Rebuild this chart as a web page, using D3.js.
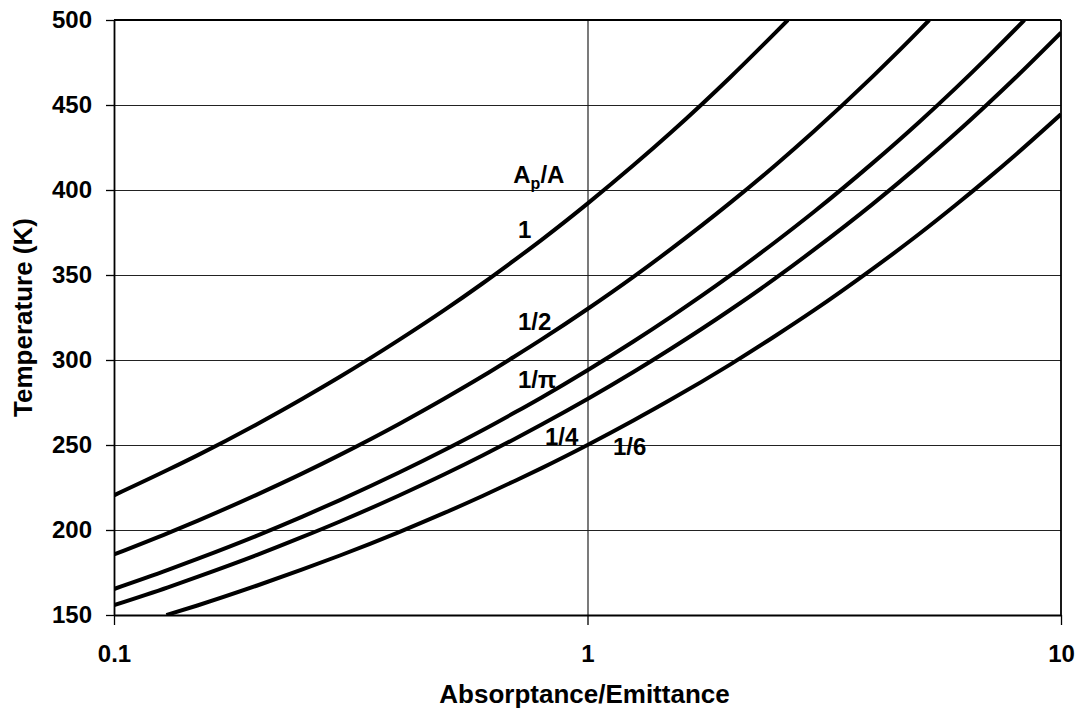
<!DOCTYPE html>
<html>
<head>
<meta charset="utf-8">
<script src="https://cdn.jsdelivr.net/npm/d3@7.9.0/dist/d3.min.js"></script>
<style>
  body { margin: 0; background: #fff; }
  svg { display: block; font-family: "Liberation Sans", Arial, sans-serif; font-weight: bold; }
</style>
</head>
<body>
<div id="chart"></div>
<script>
// values: [absorptance/emittance, temperature K]
const curve1 = [[0.1, 220.4], [0.13, 235.4], [0.15, 243.9], [0.2, 262.1], [0.25, 277.2], [0.3, 290.1],
  [0.4, 311.8], [0.5, 329.6], [0.6, 345.0], [0.7, 358.6], [0.8, 370.7], [1, 392], [1.25, 414.5],
  [1.5, 433.8], [2, 466.2], [2.5, 492.9], [2.65, 500]];
const curveHalf = [[0.1, 185.6], [0.13, 198.2], [0.15, 205.4], [0.2, 220.7], [0.25, 233.3], [0.3, 244.2],
  [0.4, 262.4], [0.5, 277.5], [0.6, 290.4], [0.7, 301.9], [0.8, 312.1], [1, 330], [1.25, 348.9],
  [1.5, 365.2], [2, 392.4], [2.5, 414.9], [3, 434.3], [4, 466.7], [5, 493.4], [5.27, 500]];
const curvePi = [[0.1, 165.3], [0.13, 176.5], [0.15, 183.0], [0.2, 196.6], [0.25, 207.9], [0.3, 217.6],
  [0.4, 233.8], [0.5, 247.2], [0.6, 258.7], [0.7, 268.9], [0.8, 278.0], [1, 294], [1.25, 310.9],
  [1.5, 325.4], [2, 349.6], [2.5, 369.7], [3, 386.9], [4, 415.8], [5, 439.6], [6, 460.1],
  [7, 478.2], [8, 494.4], [8.37, 500]];
const curveQuarter = [[0.1, 155.8], [0.13, 166.3], [0.15, 172.4], [0.2, 185.2], [0.25, 195.9], [0.3, 205.0],
  [0.4, 220.3], [0.5, 232.9], [0.6, 243.8], [0.7, 253.4], [0.8, 262.0], [1, 277], [1.25, 292.9],
  [1.5, 306.6], [2, 329.4], [2.5, 348.3], [3, 364.6], [4, 391.7], [5, 414.2], [6, 433.5],
  [7, 450.6], [8, 465.9], [10, 492.6]];
const curveSixth = [[0.129, 150], [0.15, 155.6], [0.2, 167.2], [0.25, 176.8], [0.3, 185.0],
  [0.4, 198.8], [0.5, 210.2], [0.6, 220.0], [0.7, 228.7], [0.8, 236.4], [1, 250], [1.25, 264.4],
  [1.5, 276.7], [2, 297.3], [2.5, 314.4], [3, 329.0], [4, 353.6], [5, 373.8], [6, 391.3],
  [7, 406.7], [8, 420.5], [10, 444.6]];

const xTicks = [0.1, 1, 10];
const yTicks = [150, 200, 250, 300, 350, 400, 450, 500];

// curve labels: text, position in data units
const curveLabels = [
  { text: '1', x: 0.713, y: 372 },
  { text: '1/2', x: 0.713, y: 317.5 },
  { text: '1/\u03c0', x: 0.713, y: 283.5 },
  { text: '1/4', x: 0.813, y: 250 },
  { text: '1/6', x: 1.132, y: 244 },
];

const width = 1083;
const height = 719;
const margin = { top: 20, right: 22, bottom: 104, left: 114 };

const xScale = d3.scaleLog()
  .domain([0.1, 10])
  .range([margin.left, width - margin.right]);
const yScale = d3.scaleLinear()
  .domain([150, 500])
  .range([height - margin.bottom, margin.top]);

const svg = d3.select('#chart')
  .append('svg')
  .attr('width', width)
  .attr('height', height);

svg.append('clipPath')
  .attr('id', 'plot-clip')
  .append('rect')
  .attr('x', margin.left)
  .attr('y', margin.top)
  .attr('width', width - margin.left - margin.right)
  .attr('height', height - margin.top - margin.bottom);

// horizontal gridlines
svg.append('g')
  .attr('transform', `translate(${margin.left}, 0)`)
  .call(d3.axisLeft(yScale).tickValues(yTicks).tickFormat('')
    .tickSize(-(width - margin.left - margin.right)))
  .call(g => g.select('.domain').remove())
  .call(g => g.selectAll('line').attr('stroke', '#222').attr('stroke-width', 1.2));

// vertical gridline at 1
svg.append('g')
  .attr('transform', `translate(0, ${height - margin.bottom})`)
  .call(d3.axisBottom(xScale).tickValues([1]).tickFormat('')
    .tickSize(-(height - margin.top - margin.bottom)))
  .call(g => g.select('.domain').remove())
  .call(g => g.selectAll('line').attr('stroke', '#222').attr('stroke-width', 1.2));

// y axis
svg.append('g')
  .attr('transform', `translate(${margin.left}, 0)`)
  .call(d3.axisLeft(yScale).tickValues(yTicks).tickSize(8).tickPadding(14).tickSizeOuter(0))
  .call(g => g.select('.domain').attr('stroke-width', 1.8))
  .call(g => g.selectAll('line').attr('stroke-width', 1.3))
  .call(g => g.selectAll('text').attr('font-size', 24).attr('font-family', '"Liberation Sans", Arial, sans-serif')
    .attr('font-weight', 'bold').attr('fill', '#000'));

// x axis
svg.append('g')
  .attr('transform', `translate(0, ${height - margin.bottom})`)
  .call(d3.axisBottom(xScale).tickValues(xTicks).tickFormat(d3.format('~g'))
    .tickSize(10).tickPadding(20).tickSizeOuter(0))
  .call(g => g.select('.domain').attr('stroke-width', 1.8))
  .call(g => g.selectAll('line').attr('stroke-width', 1.3))
  .call(g => g.selectAll('text').attr('font-size', 24).attr('font-family', '"Liberation Sans", Arial, sans-serif')
    .attr('font-weight', 'bold').attr('fill', '#000'));

// top and right frame
svg.append('line')
  .attr('x1', margin.left).attr('x2', width - margin.right)
  .attr('y1', margin.top).attr('y2', margin.top)
  .attr('stroke', '#000').attr('stroke-width', 1.8);
svg.append('line')
  .attr('x1', width - margin.right).attr('x2', width - margin.right)
  .attr('y1', margin.top).attr('y2', height - margin.bottom)
  .attr('stroke', '#000').attr('stroke-width', 1.8);

const line = d3.line()
  .x(d => xScale(d[0]))
  .y(d => yScale(d[1]))
  .curve(d3.curveMonotoneX);

svg.append('g')
  .attr('clip-path', 'url(#plot-clip)')
  .selectAll('path')
  .data([curve1, curveHalf, curvePi, curveQuarter, curveSixth])
  .join('path')
  .attr('d', line)
  .attr('fill', 'none')
  .attr('stroke', '#000')
  .attr('stroke-width', 4);

// curve labels
svg.append('g')
  .selectAll('text')
  .data(curveLabels)
  .join('text')
  .attr('x', d => xScale(d.x))
  .attr('y', d => yScale(d.y))
  .attr('font-size', 24)
  .text(d => d.text);

// A_p/A header
const header = svg.append('text')
  .attr('x', xScale(0.697))
  .attr('y', yScale(404))
  .attr('font-size', 24);
header.append('tspan').text('A');
header.append('tspan').attr('font-size', 16).attr('dy', 6).text('p');
header.append('tspan').attr('dy', -6).text('/A');

// axis titles
svg.append('text')
  .attr('x', (margin.left + width - margin.right) / 2 - 3)
  .attr('y', 703)
  .attr('text-anchor', 'middle')
  .attr('font-size', 26)
  .text('Absorptance/Emittance');

svg.append('text')
  .attr('transform', `translate(32, ${(margin.top + height - margin.bottom) / 2}) rotate(-90)`)
  .attr('text-anchor', 'middle')
  .attr('font-size', 26)
  .text('Temperature (K)');
</script>
</body>
</html>
